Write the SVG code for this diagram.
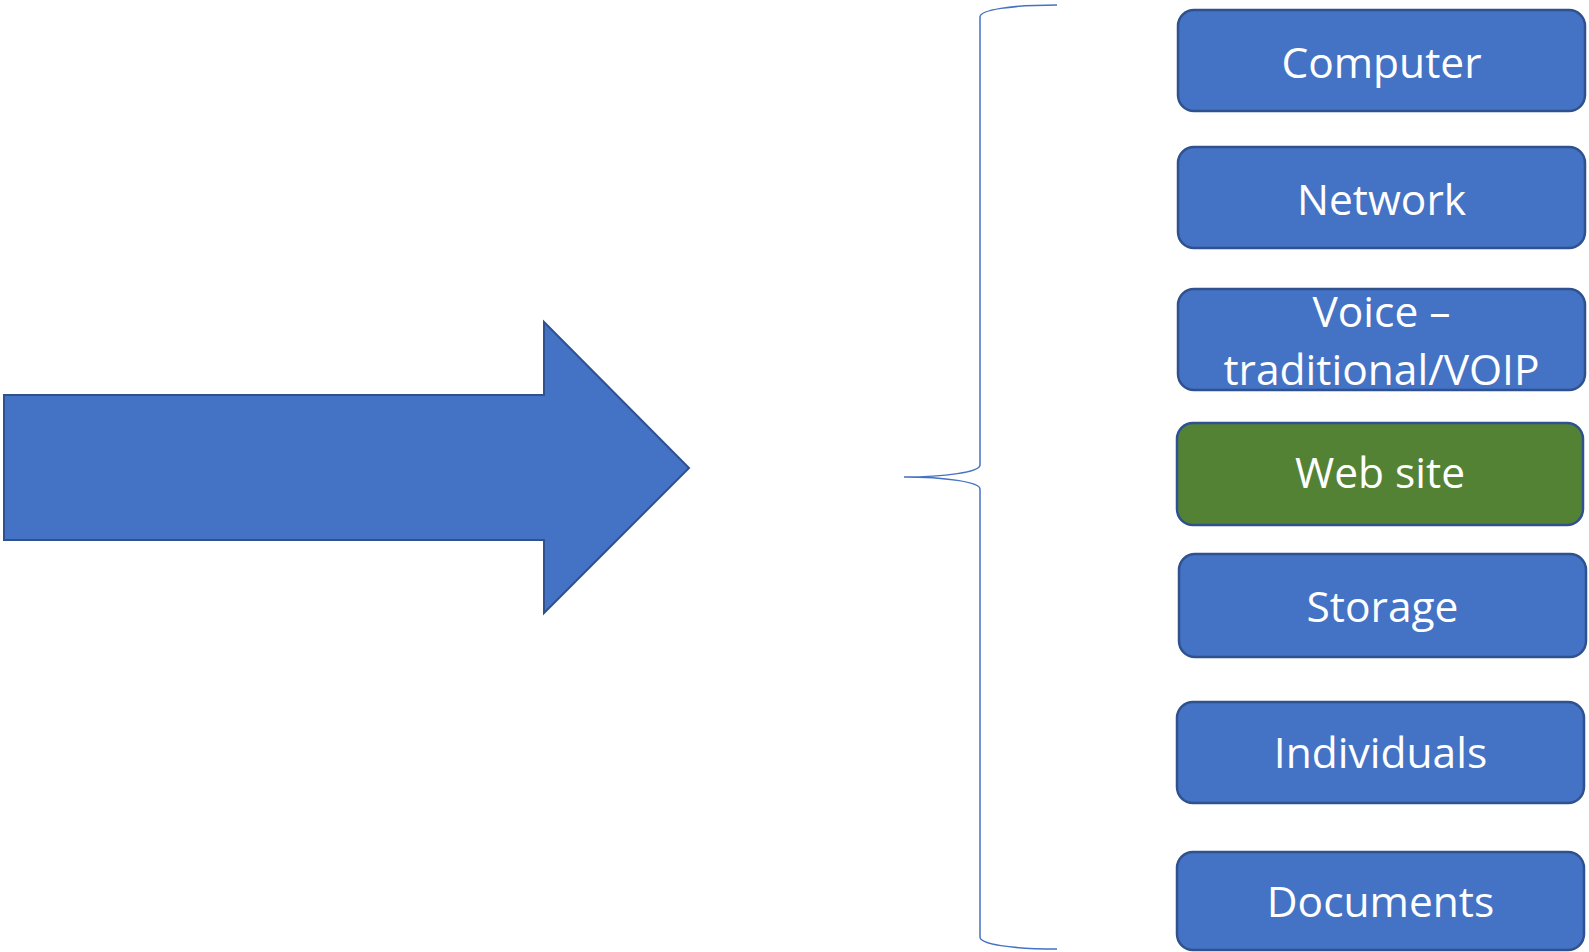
<svg xmlns="http://www.w3.org/2000/svg" width="1589" height="952" viewBox="0 0 1589 952">
  <style>
    .box { fill: #4472C4; stroke: #2F528F; stroke-width: 2.5; }
    .box.green { fill: #548235; }
    .label { font-family: "Open Sans", "Liberation Sans", sans-serif; font-size: 42.5px; fill: #FFFFFF; text-anchor: middle; }
    .brace { fill: none; stroke: #4472C4; stroke-width: 1.5; }
    .arrow { fill: #4472C4; stroke: #2F528F; stroke-width: 2; }
  </style>
  <rect width="1589" height="952" fill="#FFFFFF"/>

  <!-- big block arrow -->
  <g id="block-arrow">
    <polygon class="arrow" points="4,395 544,395 544,322 689,468 544,613 544,540 4,540"/>
  </g>

  <!-- curly brace grouping the items -->
  <g id="connectors">
    <path class="brace" d="M1057,5 C1010,5 980,10 980,17 L980,465 C980,472 945,477 904,477 C945,477 980,482 980,489 L980,937 C980,944 1010,949 1057,949"/>
  </g>

  <g id="computer">
    <rect class="box" x="1178" y="10" width="407" height="101" rx="16"/>
    <text class="label" x="1381.5" y="78">Computer</text>
  </g>
  <g id="network">
    <rect class="box" x="1178" y="147" width="407" height="101" rx="16"/>
    <text class="label" x="1381.5" y="215">Network</text>
  </g>
  <g id="voice">
    <rect class="box" x="1178" y="289" width="407" height="101" rx="16"/>
    <text class="label" x="1381.5" y="327">Voice –</text>
    <text class="label" x="1381.5" y="385">traditional/VOIP</text>
  </g>
  <g id="website">
    <rect class="box green" x="1177" y="423" width="406" height="102" rx="16"/>
    <text class="label" x="1380" y="488">Web site</text>
  </g>
  <g id="storage">
    <rect class="box" x="1179" y="554" width="407" height="103" rx="16"/>
    <text class="label" x="1382.5" y="622">Storage</text>
  </g>
  <g id="individuals">
    <rect class="box" x="1177" y="702" width="407" height="101" rx="16"/>
    <text class="label" x="1380.5" y="768">Individuals</text>
  </g>
  <g id="documents">
    <rect class="box" x="1177" y="852" width="407" height="98" rx="16"/>
    <text class="label" x="1380.5" y="917">Documents</text>
  </g>
</svg>
